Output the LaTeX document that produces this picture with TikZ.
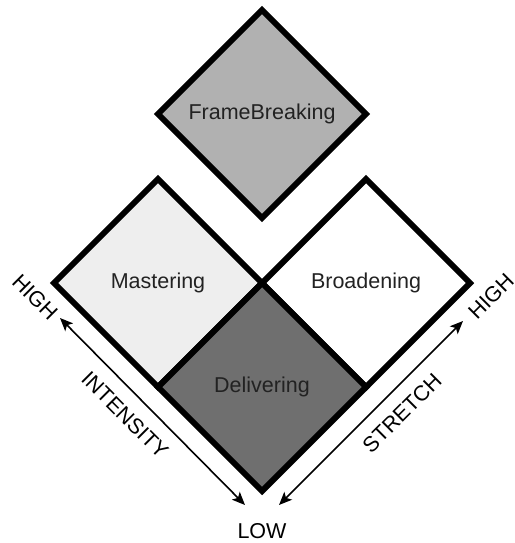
\documentclass[tikz,border=0pt]{standalone}
\usepackage{fontspec}
\setmainfont{Liberation Sans}
\usetikzlibrary{shapes.geometric,arrows.meta}
\definecolor{fbgray}{HTML}{B1B1B1}
\definecolor{mastgray}{HTML}{EEEEEE}
\definecolor{delgray}{HTML}{6F6F6F}
\definecolor{txt}{HTML}{222222}
\tikzset{
  quad/.style={diamond, aspect=1, minimum width=208pt, minimum height=208pt,
    inner sep=0pt, outer sep=0pt, draw=black, line width=6pt, line join=miter,
    font=\fontsize{21.5}{25}\selectfont, text=txt},
  axis/.style={line width=1.6pt, {Stealth[length=13pt,width=11pt,inset=3pt]}-{Stealth[length=13pt,width=11pt,inset=3pt]}},
  lab/.style={font=\fontsize{21.5}{25}\selectfont, text=black, inner sep=0pt}
}
\begin{document}
\begin{tikzpicture}[x=1pt,y=-1pt]
\useasboundingbox[fill=white] (0,0) rectangle (514,543);
\node[quad, fill=fbgray] (fb) at (262,114) {FrameBreaking};
\node[quad, fill=mastgray] (ma) at (158,283) {Mastering};
\node[quad, fill=white] (br) at (366,283) {Broadening};
\node[quad, fill=delgray] (de) at (262,387) {Delivering};
\coordinate (ih) at (60,318);
\coordinate (il) at (245,505);
\coordinate (sh) at (463,321);
\coordinate (sl) at (279,505);
\draw[axis] (ih) -- (il);
\draw[axis] (sh) -- (sl);
\node[lab, rotate=-45] (hl) at (35,297) {HIGH};
\node[lab, rotate=-45] (int) at (125,415) {INTENSITY};
\node[lab, rotate=45] (hr) at (491,296) {HIGH};
\node[lab, rotate=45] (st) at (402,413) {STRETCH};
\node[lab] (low) at (262,531) {LOW};
\end{tikzpicture}
\end{document}
